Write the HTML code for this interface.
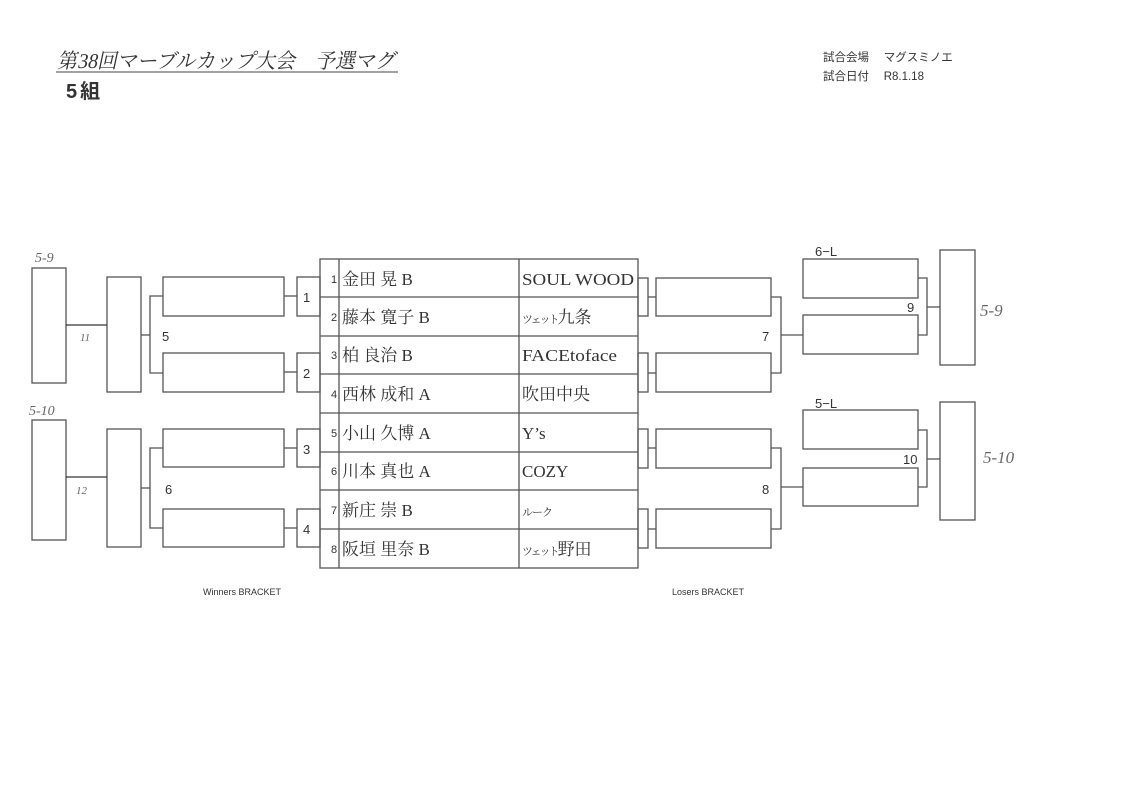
<!DOCTYPE html>
<html><head><meta charset="utf-8"><style>
body{margin:0;background:#fff}
svg{display:block}
.s{font-family:"Liberation Sans","Noto Sans CJK JP",sans-serif;fill:#333}
.m{font-family:"Liberation Serif","Noto Serif CJK SC",serif;fill:#333}
.h{font-family:"Liberation Serif",serif;fill:#666;font-style:italic}
</style></head><body>
<svg width="1123" height="794" viewBox="0 0 1123 794" xmlns="http://www.w3.org/2000/svg">
<rect width="1123" height="794" fill="#fff"/>
<g transform="translate(57,68) skewX(-12)"><text class="m" x="0" y="0" font-size="21" textLength="338" lengthAdjust="spacingAndGlyphs">第38回マーブルカップ大会　予選マグ</text></g>
<line x1="56" y1="72" x2="398" y2="72" stroke="#444" stroke-width="1"/>
<text class="s" x="66" y="98" font-size="20" font-weight="bold" fill="#333">5<tspan dx="3">組</tspan></text>
<text class="s" x="823" y="61" font-size="11.5">試合会場　 マグスミノエ</text>
<text class="s" x="823" y="80" font-size="11.5">試合日付　 R8.1.18</text>
<text class="s" x="203" y="595" font-size="9">Winners BRACKET</text>
<text class="s" x="672" y="595" font-size="9">Losers BRACKET</text>

<g fill="none" stroke="#555" stroke-width="1.3">
<rect x="320" y="259" width="318" height="309"/>
<line x1="339" y1="259" x2="339" y2="568"/>
<line x1="519" y1="259" x2="519" y2="568"/>
<line x1="320" y1="297" x2="638" y2="297"/>
<line x1="320" y1="336" x2="638" y2="336"/>
<line x1="320" y1="374" x2="638" y2="374"/>
<line x1="320" y1="413" x2="638" y2="413"/>
<line x1="320" y1="452" x2="638" y2="452"/>
<line x1="320" y1="490" x2="638" y2="490"/>
<line x1="320" y1="529" x2="638" y2="529"/>
<rect x="297" y="277" width="23" height="39"/>
<rect x="297" y="353" width="23" height="39"/>
<rect x="297" y="429" width="23" height="38"/>
<rect x="297" y="509" width="23" height="38"/>
<rect x="163" y="277" width="121" height="39"/>
<rect x="163" y="353" width="121" height="39"/>
<rect x="163" y="429" width="121" height="38"/>
<rect x="163" y="509" width="121" height="38"/>
<line x1="284" y1="296" x2="297" y2="296"/>
<line x1="284" y1="372" x2="297" y2="372"/>
<line x1="284" y1="448" x2="297" y2="448"/>
<line x1="284" y1="528" x2="297" y2="528"/>
<polyline points="163,296 150,296 150,373 163,373"/>
<polyline points="163,448 150,448 150,528 163,528"/>
<line x1="141" y1="335" x2="150" y2="335"/>
<line x1="141" y1="488" x2="150" y2="488"/>
<rect x="107" y="277" width="34" height="115"/>
<rect x="107" y="429" width="34" height="118"/>
<rect x="32" y="268" width="34" height="115"/>
<rect x="32" y="420" width="34" height="120"/>
<line x1="66" y1="325" x2="107" y2="325" stroke="#333"/>
<line x1="66" y1="477" x2="107" y2="477" stroke="#333"/>
<rect x="638" y="278" width="10" height="38"/>
<rect x="638" y="353" width="10" height="39"/>
<rect x="638" y="429" width="10" height="39"/>
<rect x="638" y="509" width="10" height="39"/>
<rect x="656" y="278" width="115" height="38"/>
<rect x="656" y="353" width="115" height="39"/>
<rect x="656" y="429" width="115" height="39"/>
<rect x="656" y="509" width="115" height="39"/>
<line x1="648" y1="297" x2="656" y2="297"/>
<line x1="648" y1="373" x2="656" y2="373"/>
<line x1="648" y1="448" x2="656" y2="448"/>
<line x1="648" y1="529" x2="656" y2="529"/>
<polyline points="771,297 781,297 781,373 771,373"/>
<polyline points="771,448 781,448 781,529 771,529"/>
<line x1="781" y1="335" x2="803" y2="335"/>
<line x1="781" y1="487" x2="803" y2="487"/>
<rect x="803" y="259" width="115" height="39"/>
<rect x="803" y="315" width="115" height="39"/>
<rect x="803" y="410" width="115" height="39"/>
<rect x="803" y="468" width="115" height="38"/>
<polyline points="918,278 927,278 927,335 918,335"/>
<polyline points="918,430 927,430 927,487 918,487"/>
<line x1="927" y1="307" x2="940" y2="307"/>
<line x1="927" y1="459" x2="940" y2="459"/>
<rect x="940" y="250" width="35" height="115"/>
<rect x="940" y="402" width="35" height="118"/>
</g>

<g class="s" font-size="11">
<text x="331" y="283">1</text><text x="331" y="321">2</text><text x="331" y="359">3</text><text x="331" y="398">4</text>
<text x="331" y="437">5</text><text x="331" y="475">6</text><text x="331" y="514">7</text><text x="331" y="553">8</text>
</g>
<g class="m" font-size="17">
<text x="342" y="285">金田 晃 B</text>
<text x="342" y="323">藤本 寛子 B</text>
<text x="342" y="361">柏 良治 B</text>
<text x="342" y="400">西林 成和 A</text>
<text x="342" y="439">小山 久博 A</text>
<text x="342" y="477">川本 真也 A</text>
<text x="342" y="516">新庄 崇 B</text>
<text x="342" y="555">阪垣 里奈 B</text>
<text x="522" y="285" textLength="112" lengthAdjust="spacingAndGlyphs">SOUL WOOD</text>
<text x="522" y="323"><tspan font-size="11" letter-spacing="-2">ツェット</tspan>九条</text>
<text x="522" y="361" textLength="95" lengthAdjust="spacingAndGlyphs">FACEtoface</text>
<text x="522" y="400">吹田中央</text>
<text x="522" y="439">Y’s</text>
<text x="522" y="477">COZY</text>
<text x="522" y="516" font-size="11" letter-spacing="-1">ルーク</text>
<text x="522" y="555"><tspan font-size="11" letter-spacing="-2">ツェット</tspan>野田</text>
</g>
<g class="s" font-size="13">
<text x="303" y="302">1</text><text x="303" y="378">2</text><text x="303" y="454">3</text><text x="303" y="534">4</text>
<text x="162" y="341">5</text><text x="165" y="494">6</text>
<text x="762" y="341">7</text><text x="762" y="494">8</text>
<text x="907" y="312">9</text><text x="903" y="464">10</text>
<text x="815" y="256">6−L</text><text x="815" y="408">5−L</text>
</g>
<g class="h" font-size="14">
<text x="80" y="341" font-size="11">11</text><text x="76" y="494" font-size="11">12</text>
<text x="35" y="262">5-9</text><text x="29" y="415">5-10</text>
<text x="980" y="316" font-size="17">5-9</text><text x="983" y="463" font-size="17">5-10</text>
</g>
</svg>
</body></html>
